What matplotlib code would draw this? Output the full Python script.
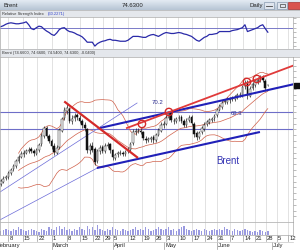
import numpy as np
import pandas as pd
import matplotlib
matplotlib.use("Agg")
import matplotlib.pyplot as plt
from matplotlib.patches import Rectangle
import matplotlib.transforms as mtransforms

plt.rcParams['font.family'] = ['Liberation Sans', 'DejaVu Sans']

# ---------------- data ----------------
opens = [57.6, 58.0, 58.6, 58.8, 59.4, 60.1, 60.6, 61.5, 62.3, 62.7,
         63.0, 63.2, 63.6, 63.3, 62.8, 63.4, 64.4, 65.8, 67.3, 65.8,
         65.0, 64.2, 63.0, 63.9, 66.8, 68.9, 70.2, 70.5, 68.4, 68.9,
         69.4, 69.0, 68.4, 67.7, 67.0, 63.4, 64.2, 63.6, 61.5, 63.2,
         63.9, 63.2, 64.2, 64.4, 63.4, 62.1, 62.7, 63.0, 62.9, 62.7,
         63.2, 63.4, 64.6, 66.5, 66.8, 66.8, 66.5, 65.4, 65.1, 65.4,
         65.6, 65.1, 66.1, 66.8, 67.7, 68.0, 68.9, 69.8, 68.5, 68.4,
         68.9, 69.1, 68.4, 67.7, 68.6, 69.1, 67.9, 66.3, 65.6, 66.5,
         67.1, 67.9, 68.2, 68.7, 68.9, 69.4, 70.4, 70.9, 71.7, 71.8,
         72.0, 72.3, 72.3, 72.7, 73.0, 72.8, 74.4, 75.2, 72.8, 74.1,
         74.7, 75.2, 75.6, 76.0, 75.4, 74.66]
closes = [58.1, 58.5, 58.8, 59.5, 60.0, 60.7, 61.6, 62.2, 62.8, 62.9,
          63.3, 63.5, 63.3, 62.9, 63.5, 64.3, 65.9, 67.2, 65.9, 65.0,
          64.1, 63.1, 63.8, 66.9, 68.8, 70.3, 70.7, 68.5, 68.8, 69.3,
          69.1, 68.5, 67.8, 67.2, 63.5, 64.1, 63.5, 61.4, 63.3, 63.8,
          63.3, 64.1, 64.3, 63.5, 62.2, 62.6, 62.9, 62.9, 62.8, 63.1,
          63.5, 64.5, 66.6, 66.7, 66.7, 66.6, 65.5, 65.2, 65.3, 65.5,
          65.2, 66.0, 66.9, 67.8, 67.9, 69.0, 69.7, 68.6, 68.5, 68.8,
          69.0, 68.5, 67.8, 68.5, 69.0, 68.1, 66.2, 65.7, 66.4, 67.2,
          67.8, 68.3, 68.6, 68.8, 69.3, 70.3, 71.0, 71.6, 71.9, 72.1,
          72.2, 72.4, 72.6, 72.9, 72.9, 74.3, 75.0, 72.9, 74.0, 74.8,
          75.3, 75.5, 75.9, 75.5, 74.1, 74.63]
highs = [58.5, 58.9, 59.2, 59.8, 60.4, 61.0, 61.9, 62.6, 63.2, 63.4,
         63.7, 63.9, 64.0, 63.6, 63.8, 64.7, 66.3, 67.6, 67.6, 66.2,
         65.4, 64.6, 64.3, 67.3, 69.2, 70.8, 71.4, 70.9, 69.4, 69.8,
         69.8, 69.4, 68.8, 68.2, 67.3, 64.6, 64.9, 63.9, 63.6, 64.3,
         64.3, 64.6, 64.9, 64.7, 63.7, 63.0, 63.3, 63.4, 63.3, 63.5,
         63.9, 64.9, 67.0, 67.3, 67.2, 67.2, 66.8, 65.8, 65.7, 65.9,
         66.0, 66.4, 67.3, 68.2, 68.4, 69.4, 70.1, 70.0, 69.0, 69.2,
         69.5, 69.5, 68.8, 68.9, 69.5, 69.4, 68.2, 66.7, 66.8, 67.6,
         68.2, 68.7, 69.0, 69.2, 69.7, 70.7, 71.4, 72.0, 72.3, 72.5,
         72.6, 72.8, 73.0, 73.3, 73.4, 74.7, 75.5, 75.5, 74.4, 75.2,
         75.7, 76.0, 76.4, 76.3, 75.7, 74.66]
lows = [57.2, 57.7, 58.2, 58.5, 59.1, 59.8, 60.3, 61.2, 62.0, 62.3,
        62.7, 62.9, 63.0, 62.4, 62.5, 63.1, 64.1, 65.5, 65.5, 64.6,
        63.7, 62.6, 62.7, 63.6, 66.5, 68.6, 69.6, 68.1, 68.0, 68.5,
        68.7, 68.1, 67.3, 66.8, 63.0, 62.8, 63.1, 60.8, 61.2, 62.8,
        62.9, 62.9, 63.8, 63.0, 61.8, 61.7, 62.3, 62.5, 62.4, 62.4,
        62.9, 63.1, 64.3, 66.1, 66.3, 66.2, 65.1, 64.7, 64.8, 64.9,
        64.6, 64.9, 65.8, 66.5, 67.3, 67.7, 68.6, 68.2, 68.0, 68.1,
        68.5, 68.1, 67.4, 67.4, 68.2, 67.7, 65.7, 65.2, 65.3, 66.2,
        66.8, 67.5, 67.9, 68.3, 68.5, 69.1, 70.1, 70.6, 71.3, 71.4,
        71.6, 71.9, 71.9, 72.3, 72.5, 72.5, 74.0, 72.3, 72.5, 73.8,
        74.3, 74.9, 75.2, 75.1, 73.7, 74.54]
volumes = [3, 4, 5, 4, 3, 5, 4, 6, 5, 4, 3, 4, 5, 4, 3, 2, 5, 4, 3, 6,
           5, 4, 6, 7, 5, 6, 4, 5, 3, 5, 4, 6, 5, 4, 7, 5, 6, 4, 8, 5,
           4, 3, 5, 4, 6, 5, 4, 3, 5, 4, 3, 4, 5, 6, 4, 5, 4, 6, 5, 3,
           4, 5, 6, 5, 4, 5, 6, 4, 5, 3, 5, 6, 7, 5, 4, 3, 4, 5, 4, 3,
           5, 4, 3, 4, 5, 4, 5, 4, 6, 5, 4, 3, 5, 4, 3, 4, 5, 4, 3, 2,
           3, 2, 4, 3, 2, 3]
rsi = [72.1, 74.2, 77.4, 79.5, 80.5, 79.5, 78.4, 78.4, 79.5, 80.5,
       82.6, 76.3, 67.9, 65.8, 70.0, 73.2, 72.1, 66.9, 62.7, 59.5,
       55.3, 53.2, 58.5, 65.8, 69.0, 70.0, 64.8, 61.6, 60.6, 58.5,
       55.3, 53.2, 50.1, 44.8, 38.5, 38.5, 38.5, 30.1, 35.4, 38.5,
       40.6, 41.7, 43.8, 44.8, 42.7, 42.7, 41.7, 40.6, 40.6, 40.6,
       42.7, 46.9, 51.1, 51.1, 51.1, 50.1, 49.0, 49.0, 52.2, 54.3,
       55.3, 53.2, 51.1, 54.3, 57.4, 59.5, 58.5, 57.4, 57.4, 58.5,
       59.5, 58.5, 56.4, 55.3, 53.2, 51.1, 46.9, 42.7, 40.6, 44.8,
       49.0, 51.1, 55.3, 55.3, 56.4, 57.4, 61.6, 61.6, 61.6, 61.6,
       61.6, 63.7, 64.8, 65.8, 67.9, 70.0, 76.3, 61.6, 63.7, 65.8,
       67.9, 70.0, 74.2, 76.3, 67.9, 60.2]

week_pos = [3.0, 8.6, 14.4, 20.0, 25.9, 31.2, 36.4, 40.2, 44.1, 50.0, 55.5, 60.6,
            64.9, 69.7, 75.2, 80.3, 85.0, 90.1, 95.2, 99.9, 104.2, 108.6, 112.9]
week_labels = ["8", "15", "22", "1", "8", "15", "22", "29", "5", "12", "19", "26",
               "3", "10", "17", "24", "31", "7", "14", "21", "28", "5", "12"]
month_pos = [-2.0, 20.0, 44.1, 64.3, 85.0, 106.5]
month_labels = ["February", "March", "April", "May", "June", "July"]

# analyst drawings: (x0, p0, x1, p1)
thin_blue_lines = [(-0.3, 56.2, 53.6, 71.55), (-0.3, 51.4, 37.8, 60.3)]
thick_blue_lines = [(39.0, 67.24, 115.6, 74.83), (37.8, 60.34, 101.9, 66.55)]
red_down_line = (25.3, 71.7, 53.6, 62.2)
red_up_line = (49.6, 67.24, 115.6, 78.1)
circle_x = [55.5, 66.1, 96.8, 100.7]
circle_p = [67.93, 70.0, 75.17, 75.69]
levels = [70.0, 67.07]
level_texts = [("70.2", 61.8, 71.6), ("69.3", 92.9, 69.8)]
last_price = 74.63

# ---------------- layout ----------------
W, H = 300, 250
fig = plt.figure(figsize=(3, 2.5), dpi=100)
fig.patch.set_facecolor('white')


def rect(x0, y0, x1, y1):
    return [x0 / W, 1 - y1 / H, (x1 - x0) / W, (y1 - y0) / H]


XL = (-0.3, 114.9)
grid_c = '#d6d6d6'
n = np.arange(len(closes))

# title bar
ax_t = fig.add_axes(rect(0, 0, 300, 10))
grad = np.linspace(0, 1, 20).reshape(-1, 1)
ax_t.imshow(grad, aspect='auto', cmap=matplotlib.colors.LinearSegmentedColormap.from_list(
    'g', ['#e3eaf2', '#b7c5d5']), extent=(0, 300, 10, 0))
ax_t.set_xlim(0, 300)
ax_t.set_ylim(10, 0)
ax_t.axis('off')
ax_t.text(3, 5.3, "Brent", fontsize=4.3, va='center', color='#222')
ax_t.text(122, 5.3, "74.6300", fontsize=4.3, va='center', color='#222')
ax_t.text(250, 5.3, "Daily", fontsize=4.3, va='center', color='#222')
for bx in (264, 277):
    ax_t.add_patch(Rectangle((bx, 2), 10, 6.5, facecolor='#dfe5ee', edgecolor='#8a9bb0', lw=0.5))
ax_t.plot([266, 272], [6, 6], color='#444', lw=0.6)
ax_t.add_patch(Rectangle((279.5, 3.5), 5, 3.5, facecolor='none', edgecolor='#444', lw=0.5))
ax_t.add_patch(Rectangle((288, 2), 12, 6.5, facecolor='#d9534f', edgecolor='#a33', lw=0.5))

# RSI header
ax_rh = fig.add_axes(rect(0, 10, 300, 17))
ax_rh.set_facecolor('#e4e7ec')
ax_rh.set_xticks([]); ax_rh.set_yticks([])
for s in ax_rh.spines.values():
    s.set_color('#b0b0b0'); s.set_linewidth(0.5)
ax_rh.text(0.008, 0.5, "Relative Strength Index", fontsize=2.9, va='center', color='#333',
           transform=ax_rh.transAxes)
ax_rh.text(0.158, 0.5, "(60.2271)", fontsize=2.9, va='center', color='#3344cc',
           transform=ax_rh.transAxes)

# RSI panel
ax_r = fig.add_axes(rect(0, 17, 293, 49))
ax_r.set_xlim(*XL)
ax_r.set_ylim(23.8, 93.1)
ax_r.vlines(week_pos, 23.8, 93.1, color=grid_c, lw=0.5, zorder=0)
ax_r.axhline(70, color='#7a7ac8', lw=0.7)
ax_r.plot(n, rsi, color='#2a2aa8', lw=0.9)
ax_r.set_xticks([])
ax_r.yaxis.tick_right()
ax_r.set_yticks([30, 40, 50, 60, 70, 80, 90])
ax_r.tick_params(axis='y', length=2, width=0.4, labelright=False, colors='#888')
for s in ax_r.spines.values():
    s.set_color('#a8a8a8'); s.set_linewidth(0.5)

# Price header
ax_ph = fig.add_axes(rect(0, 49, 300, 57))
ax_ph.set_facecolor('#e4e7ec')
ax_ph.set_xticks([]); ax_ph.set_yticks([])
for s in ax_ph.spines.values():
    s.set_color('#b0b0b0'); s.set_linewidth(0.5)
ax_ph.text(0.008, 0.5, "Brent (74.6600, 74.6600, 74.5400, 74.6300, -0.0400)", fontsize=2.9,
           va='center', color='#333', transform=ax_ph.transAxes)

# Price panel
ax = fig.add_axes(rect(0, 57, 293, 222))
ax.set_xlim(*XL)
ylo, yhi = 51.03, 79.48
ax.set_ylim(ylo, yhi)
ax.vlines(week_pos, ylo, yhi, color=grid_c, lw=0.5, zorder=0)
for lv in levels:
    ax.axhline(lv, color='#6e6ec8', lw=0.8, zorder=1)

# Bollinger bands from closes
cs = pd.Series(closes)
mid = cs.rolling(20, min_periods=8).mean()
sd = cs.rolling(20, min_periods=8).std()
for band in (mid + 2 * sd, mid - 2 * sd, mid):
    ax.plot(n, band, color='#d0604a', lw=0.5, zorder=2)

# thin trendlines
for (x0, p0, x1, p1) in thin_blue_lines:
    ax.plot([x0, x1], [p0, p1], color='#6a6ad8', lw=0.5, zorder=2)

# candles
o = np.array(opens); c = np.array(closes); h = np.array(highs); l = np.array(lows)
ax.vlines(n, l, h, color='#222', lw=0.5, zorder=3)
up = c >= o
ax.bar(n[up], (c - o)[up], bottom=o[up], width=0.65, color='white', edgecolor='#222',
       linewidth=0.35, zorder=4)
ax.bar(n[~up], (o - c)[~up], bottom=c[~up], width=0.65, color='#111', edgecolor='#111',
       linewidth=0.35, zorder=4)

# thick trendlines
for (x0, p0, x1, p1) in thick_blue_lines:
    ax.plot([x0, x1], [p0, p1], color='#2020b8', lw=1.5, zorder=5, solid_capstyle='butt')
ax.plot([red_down_line[0], red_down_line[2]], [red_down_line[1], red_down_line[3]],
        color='#d42a2a', lw=1.6, zorder=5)
ax.plot([red_up_line[0], red_up_line[2]], [red_up_line[1], red_up_line[3]],
        color='#e03a3a', lw=1.3, zorder=5)
ax.scatter(circle_x, circle_p, s=28, facecolors='none', edgecolors='#d42a2a', linewidths=1.0,
           zorder=6)
for t, tx, tp in level_texts:
    ax.text(tx, tp, t, fontsize=4.3, color='#2c2c90', ha='center', va='center', zorder=6)
ax.text(89.3, 61.5, "Brent", fontsize=7, color='#3535b5', ha='center', va='center', zorder=6)

ax.set_xticks([])
ax.yaxis.tick_right()
ax.set_yticks(np.arange(52, 80, 1))
ax.tick_params(axis='y', length=2, width=0.4, labelright=False, colors='#888')
for s in ax.spines.values():
    s.set_color('#a8a8a8'); s.set_linewidth(0.5)
trans = mtransforms.blended_transform_factory(ax.transAxes, ax.transData)
ax.add_patch(Rectangle((1.005, last_price - 0.45), 0.018, 0.9, transform=trans,
                       facecolor='#111', edgecolor='#111', clip_on=False, zorder=7))

# Volume panel
ax_v = fig.add_axes(rect(0, 222, 293, 235))
ax_v.set_xlim(*XL)
ax_v.set_ylim(0, 10)
ax_v.vlines(week_pos, 0, 10, color=grid_c, lw=0.5, zorder=0)
ax_v.bar(n, volumes, width=0.55, color='#9a9ae0', zorder=2)
ax_v.set_xticks([])
ax_v.set_yticks([])
for s in ax_v.spines.values():
    s.set_color('#a8a8a8'); s.set_linewidth(0.5)

tv = mtransforms.blended_transform_factory(ax_v.transData, ax_v.transAxes)
for xp, lab in zip(week_pos, week_labels):
    ax_v.plot([xp, xp], [0, -0.45], color='#999', lw=0.5, transform=tv, clip_on=False)
    ax_v.text(xp + 0.5, -0.27, lab, fontsize=4.2, ha='left', va='center', color='#222',
              transform=tv, clip_on=False)
for xp, lab in zip(month_pos, month_labels):
    ax_v.plot([xp, xp], [-0.5, -1.1], color='#999', lw=0.5, transform=tv, clip_on=False)
    ax_v.text(xp + 0.5, -0.8, lab, fontsize=4.2, ha='left', va='center', color='#222',
              transform=tv, clip_on=False)
ax_v.plot([0, 1], [-0.52, -0.52], color='#c8c8c8', lw=0.5, transform=ax_v.transAxes,
          clip_on=False)

fig.savefig("out.png", dpi=100, facecolor='white')
